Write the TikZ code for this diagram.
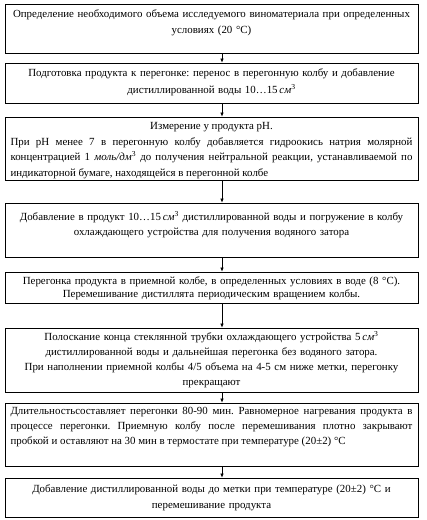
\documentclass[tikz,border=0pt]{standalone}
\usepackage{fontspec}
\setmainfont{Liberation Serif}
\usetikzlibrary{arrows.meta}

\newcommand{\cmcube}{\,\textit{см}\textsuperscript{3}}

\begin{document}
\begin{tikzpicture}[
  x=1pt, y=-1pt,
  box/.style={draw, line width=0.8pt, minimum width=413pt, inner sep=0pt},
  txt/.style={text width=402pt, align=center, inner sep=0pt, anchor=north,
    font=\fontsize{10.9}{#1}\selectfont\frenchspacing},
  txt/.default=15.5,
  >={Latex[length=4pt,width=3.5pt]}
]
  \useasboundingbox (0,0) rectangle (427,520);

  % Блоки схеми
  \node[box, minimum height=49pt] (b1) at (211.5,28.5) {};
  \node[box, minimum height=40pt] (b2) at (211.5,83) {};
  \node[box, minimum height=63pt] (b3) at (211.5,148.5) {};
  \node[box, minimum height=54pt] (b4) at (211.5,230) {};
  \node[box, minimum height=31pt] (b5) at (211.5,287.5) {};
  \node[box, minimum height=64pt] (b6) at (211.5,360) {};
  \node[box, minimum height=63pt] (b7) at (211.5,434.5) {};
  \node[box, minimum height=39pt] (b8) at (211.5,497.5) {};

  % Тексти
  \node[txt=16] (t1) at ([yshift=-6pt]b1.north)
    {Определение необходимого объема исследуемого виноматериала при определенных\\
     условиях (20 °C)};
  \node[txt=17] (t2) at ([yshift=-6pt]b2.north)
    {Подготовка продукта к перегонке: перенос в перегонную колбу и добавление\\
     дистиллированной воды 10…15\cmcube};
  \node[txt, align=justify] (t3) at ([yshift=-6pt]b3.north)
    {{\centering Измерение у продукта pH.\par}
     При pH менее 7 в перегонную колбу добавляется гидроокись натрия молярной\linebreak
     концентрацией 1 \textit{моль/дм}\textsuperscript{3} до получения нейтральной реакции, устанавливаемой по\linebreak
     индикаторной бумаге, находящейся в перегонной колбе};
  \node[txt=15] (t4) at ([yshift=-9pt]b4.north)
    {Добавление в продукт 10…15\cmcube{} дистиллированной воды и погружение в колбу\\
     охлаждающего устройства для получения водяного затора};
  \node[txt=13] (t5) at ([yshift=-5pt]b5.north)
    {Перегонка продукта в приемной колбе, в определенных условиях в воде (8 °C).\\
     Перемешивание дистиллята периодическим вращением колбы.};
  \node[txt=15] (t6) at ([yshift=-4pt]b6.north)
    {Полоскание конца стеклянной трубки охлаждающего устройства 5\cmcube\\
     дистиллированной воды и дальнейшая перегонка без водяного затора.\\
     При наполнении приемной колбы 4/5 объема на 4-5 см ниже метки, перегонку\\
     прекращают};
  \node[txt=15, align=justify] (t7) at ([yshift=-4pt]b7.north)
    {Длительностьсоставляет перегонки 80-90 мин. Равномерное нагревания продукта в\linebreak
     процессе перегонки. Приемную колбу после перемешивания плотно закрывают\linebreak
     пробкой и оставляют на 30 мин в термостате при температуре (20±2) °C};
  \node[txt=16] (t8) at ([yshift=-7pt]b8.north)
    {Добавление дистиллированной воды до метки при температуре (20±2) °C и\\
     перемешивание продукта};

  % Стрілки
  \coordinate (ar) at (222,0);
  \foreach \a/\b in {b1/b2, b2/b3, b3/b4, b4/b5, b5/b6, b6/b7, b7/b8}
    \draw[->, line width=0.6pt] (\a.south -| ar) -- (\b.north -| ar);

\end{tikzpicture}
\end{document}
